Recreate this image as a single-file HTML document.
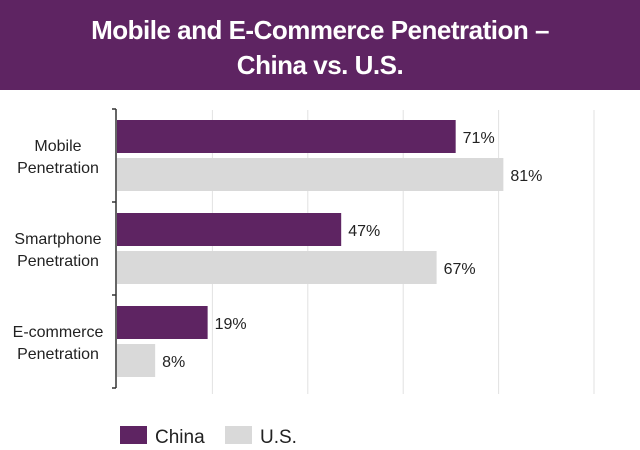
<!DOCTYPE html>
<html><head><meta charset="utf-8"><style>
body{margin:0;background:#fff;font-family:"Liberation Sans",sans-serif;}
#wrap{position:relative;width:640px;height:450px;overflow:hidden;}
#hdr{position:absolute;left:0;top:0;width:640px;height:90px;background:#5e2462;color:#fff;text-align:center;font-weight:bold;font-size:26px;line-height:35px;padding-top:13px;box-sizing:border-box;letter-spacing:-0.5px;}
</style></head><body>
<div id="wrap">
<div id="hdr">Mobile and E-Commerce Penetration –<br>China vs. U.S.</div>
<svg id="svg" width="640" height="450" style="position:absolute;left:0;top:0"></svg>
</div>
<script>
const categories=[["Mobile","Penetration"],["Smartphone","Penetration"],["E-commerce","Penetration"]];
const chinaValues=[71,47,19];
const usValues=[81,67,8];
const gridTicks=[20,40,60,80,100];
const NS="http://www.w3.org/2000/svg";
const svg=document.getElementById('svg');
const x0=117,k=4.77,top0=109,groupH=93;
const xs=v=>x0+v*k;
function mk(t,a){const e=document.createElementNS(NS,t);for(const n in a)e.setAttribute(n,a[n]);svg.appendChild(e);return e;}
gridTicks.forEach(t=>{const l=mk('line',{x1:xs(t),x2:xs(t),y1:110,y2:394,stroke:'#e2e2e2','stroke-width':1});

});
const ax=mk('line',{x1:x0-1,x2:x0-1,y1:top0,y2:top0+groupH*3,stroke:'#333','stroke-width':1.5});


for(let i=0;i<=3;i++){const t=mk('line',{x1:x0-5,x2:x0-1,y1:top0+groupH*i,y2:top0+groupH*i,stroke:'#333','stroke-width':1.5});

}
categories.forEach((c,i)=>{
 const gy=top0+groupH*i;
 const lab=mk('text',{x:58,y:gy+42,'text-anchor':'middle','font-size':16,fill:'#222'});
 
 
 c.forEach((s,j)=>{const ts=document.createElementNS(NS,'tspan');ts.setAttribute('x',58);ts.setAttribute('dy',j?22:0);ts.textContent=s;lab.appendChild(ts);});
 [[chinaValues[i],'#5e2462',gy+11],[usValues[i],'#d9d9d9',gy+49]].forEach(([v,col,y],s)=>{
  const b=mk('rect',{x:x0,y:y,width:xs(v)-x0,height:33,fill:col});
  
  
  const t=mk('text',{x:xs(v)+7,y:y+23,'font-size':16,fill:'#222'});
  t.textContent=v+'%';
  
  
 });
});
[['China','#5e2462',120],['U.S.','#d9d9d9',225]].forEach(([n,c,x])=>{
 const r=mk('rect',{x:x,y:426,width:27,height:18,fill:c});
 
 
 const t=mk('text',{x:x+35,y:443,'font-size':19,fill:'#222'});t.textContent=n;
 
 
});
</script>
</body></html>
